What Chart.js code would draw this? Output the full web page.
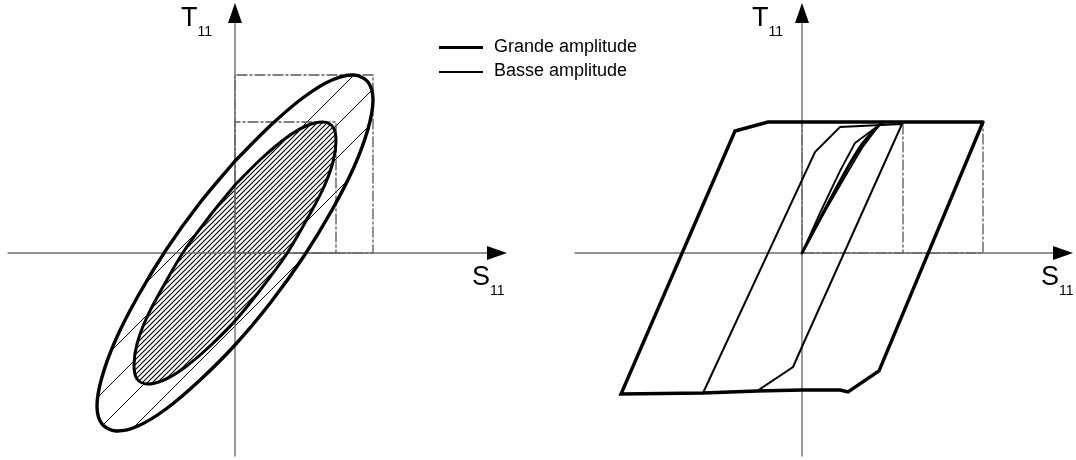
<!DOCTYPE html>
<html>
<head>
<meta charset="utf-8">
<script src="https://cdn.jsdelivr.net/npm/chart.js@4.4.0/dist/chart.umd.min.js"></script>
<style>
  html, body { margin: 0; padding: 0; background: #fff; }
  #wrap { position: relative; width: 1076px; height: 460px; overflow: hidden;
          font-family: "Liberation Sans", Arial, sans-serif; color: #000; }
  canvas { position: absolute; top: 0; }
  #left { left: 0; }
  #right { left: 538px; }
  .lbl { position: absolute; font-size: 27px; line-height: 27px; white-space: nowrap; }
  .lbl sub { font-size: 14px; line-height: 0; vertical-align: -10px; }
  .leg-line { position: absolute; left: 439px; width: 44px; background: #000; }
  .leg-text { position: absolute; left: 494px; font-size: 18px; line-height: 18px; white-space: nowrap; }
</style>
</head>
<body>
<div id="wrap">
  <canvas id="left" width="538" height="460"></canvas>
  <canvas id="right" width="538" height="460"></canvas>

  <div class="lbl" style="left:181px;top:4px">T<sub>11</sub></div>
  <div class="lbl" style="left:472px;top:263px">S<sub>11</sub></div>
  <div class="lbl" style="left:752px;top:4px">T<sub>11</sub></div>
  <div class="lbl" style="left:1041px;top:263px">S<sub>11</sub></div>

  <div class="leg-line" style="top:46px;height:3px"></div>
  <div class="leg-text" style="top:37px">Grande amplitude</div>
  <div class="leg-line" style="top:71px;height:1.5px"></div>
  <div class="leg-text" style="top:61px">Basse amplitude</div>
</div>
<script>
// ---- left panel: elliptic loops (S11 horizontal, T11 vertical) ----
// grande amplitude
const outerS = [0, -0.36, -0.69, -0.97, -1.19, -1.33, -1.38, -1.33, -1.19, -0.97, -0.69, -0.36,
                0, 0.36, 0.69, 0.97, 1.19, 1.33, 1.38, 1.33, 1.19, 0.97, 0.69, 0.36, 0];
const outerT = [0.92, 0.49, 0.03, -0.43, -0.86, -1.24, -1.53, -1.71, -1.78, -1.73, -1.56, -1.28,
                -0.92, -0.49, -0.03, 0.43, 0.86, 1.24, 1.53, 1.71, 1.78, 1.73, 1.56, 1.28, 0.92];
// basse amplitude
const innerS = [0, -0.26, -0.51, -0.71, -0.88, -0.98, -1.01, -0.98, -0.88, -0.71, -0.51, -0.26,
                0, 0.26, 0.51, 0.71, 0.88, 0.98, 1.01, 0.98, 0.88, 0.71, 0.51, 0.26, 0];
const innerT = [0.68, 0.36, 0.02, -0.32, -0.64, -0.91, -1.12, -1.26, -1.31, -1.27, -1.15, -0.94,
                -0.68, -0.36, -0.02, 0.32, 0.64, 0.91, 1.12, 1.26, 1.31, 1.27, 1.15, 0.94, 0.68];
// amplitude boxes (dash-dot)
const outerBoxS = [0, 0, 1.38, 1.38, 0];
const outerBoxT = [0, 1.78, 1.78, 0, 0];
const innerBoxS = [0, 0, 1.01, 1.01, 0];
const innerBoxT = [0, 1.31, 1.31, 0, 0];

// ---- right panel: polygonal loops ----
const bigS = [1.81, -0.34, -0.67, -1.81, -0.99, -0.45, 0.00, 0.38, 0.46, 0.77, 1.81];
const bigT = [1.31, 1.31, 1.22, -1.41, -1.40, -1.38, -1.37, -1.37, -1.39, -1.18, 1.31];
const midS = [1.00, 0.03, -0.09, -0.45, -0.99, 0.13, 0.38, 1.00];
const midT = [1.29, -0.87, -1.14, -1.38, -1.40, 1.01, 1.26, 1.29];
const firstS = [0, 0.28, 0.46, 0.61, 0.80];          // first loading (thick)
const firstT = [0, 0.53, 0.86, 1.10, 1.31];
const smallS = [0.80, 0.53, 0.38, 0.18, 0];          // small cycle (thin)
const smallT = [1.30, 1.10, 0.82, 0.40, 0];
const smallS2 = [0.78, 0.60, 0.44, 0.22, 0];
const smallT2 = [1.29, 1.05, 0.78, 0.40, 0];
const rightBoxS = [0, 0, 1.81, 1.81, 0];
const rightBoxT = [0, 1.31, 1.31, 0, 0];
const midDashS = [1.01, 1.01];
const midDashT = [1.29, 0];

// axes extents (data units)
const axisX = { left: [-2.27, 2.62], right: [-2.27, 2.61] };
const axisY = [-2.03, 2.40];

const pts = (s, t) => s.map((v, i) => ({ x: v, y: t[i] }));

function hatch(step, bg, lw) {
  const c = document.createElement('canvas');
  c.width = step; c.height = step;
  const g = c.getContext('2d');
  if (bg) { g.fillStyle = bg; g.fillRect(0, 0, step, step); }
  g.strokeStyle = '#000';
  g.lineWidth = lw;
  g.beginPath();
  g.moveTo(-1, step + 1); g.lineTo(step + 1, -1);
  g.moveTo(-1, 1); g.lineTo(1, -1);
  g.moveTo(step - 1, step + 1); g.lineTo(step + 1, step - 1);
  g.stroke();
  return g.createPattern(c, 'repeat');
}

function arrowHead() {
  const c = document.createElement('canvas');
  c.width = 14; c.height = 20;
  const g = c.getContext('2d');
  g.fillStyle = '#000';
  g.beginPath(); g.moveTo(7, 0); g.lineTo(14, 20); g.lineTo(0, 20); g.closePath(); g.fill();
  return c;
}
const arrow = arrowHead();

const DASH = [10, 3, 2, 3];
const GREY = '#555';
const AXIS = '#6e6e6e';

function axisSets(xr) {
  return [
    { data: pts(xr, [0, 0]), showLine: true, borderColor: AXIS, borderWidth: 1.4, order: 6 },
    { data: pts([0, 0], axisY), showLine: true, borderColor: AXIS, borderWidth: 1.4, order: 6 },
    { data: [{ x: xr[1], y: 0 }], pointStyle: arrow, pointRotation: 90, pointRadius: 5, order: 1 },
    { data: [{ x: 0, y: axisY[1] }], pointStyle: arrow, pointRotation: 0, pointRadius: 5, order: 1 }
  ];
}

function options(xMin, xMax) {
  return {
    responsive: false,
    animation: false,
    events: [],
    layout: { padding: 0, autoPadding: false },
    plugins: { legend: { display: false }, tooltip: { enabled: false } },
    scales: {
      x: { type: 'linear', display: false, min: xMin, max: xMax },
      y: { type: 'linear', display: false, min: -2.07, max: 2.53 }
    },
    elements: {
      point: { radius: 0 },
      line: { borderColor: '#000', fill: false, borderJoinStyle: 'round', borderCapStyle: 'round' }
    }
  };
}

new Chart(document.getElementById('left'), {
  type: 'scatter',
  data: {
    datasets: [
      { data: pts(outerS, outerT), showLine: true, tension: 0.33, borderWidth: 0,
        fill: 'shape', backgroundColor: hatch(33, null, 1), order: 10 },
      { data: pts(innerS, innerT), showLine: true, tension: 0.33, borderWidth: 0,
        fill: 'shape', backgroundColor: hatch(5, '#fff', 1.1), order: 9 },
      { data: pts(outerBoxS, outerBoxT), showLine: true, borderColor: GREY, borderWidth: 1.3,
        borderDash: DASH, borderJoinStyle: 'miter', order: 8 },
      { data: pts(innerBoxS, innerBoxT), showLine: true, borderColor: GREY, borderWidth: 1.3,
        borderDash: DASH, borderJoinStyle: 'miter', order: 8 },
      ...axisSets(axisX.left),
      { data: pts(outerS, outerT), showLine: true, tension: 0.33, borderWidth: 3.4, order: 5 },
      { data: pts(innerS, innerT), showLine: true, tension: 0.33, borderWidth: 3, order: 4 }
    ]
  },
  options: options(-2.35, 3.03)
});

new Chart(document.getElementById('right'), {
  type: 'scatter',
  data: {
    datasets: [
      { data: pts(rightBoxS, rightBoxT), showLine: true, borderColor: GREY, borderWidth: 1.3,
        borderDash: DASH, borderJoinStyle: 'miter', order: 8 },
      { data: pts(midDashS, midDashT), showLine: true, borderColor: GREY, borderWidth: 1.3,
        borderDash: DASH, order: 8 },
      ...axisSets(axisX.right),
      { data: pts(bigS, bigT), showLine: true, borderWidth: 3.4, borderJoinStyle: 'miter', order: 5 },
      { data: pts(midS, midT), showLine: true, borderWidth: 2, borderJoinStyle: 'miter', order: 4 },
      { data: pts(smallS, smallT), showLine: true, borderWidth: 1.8, order: 3 },
      { data: pts(smallS2, smallT2), showLine: true, borderWidth: 1.8, order: 3 },
      { data: pts(firstS, firstT), showLine: true, tension: 0.3, borderWidth: 3, order: 2 }
    ]
  },
  options: options(-2.64, 2.74)
});
</script>
</body>
</html>
